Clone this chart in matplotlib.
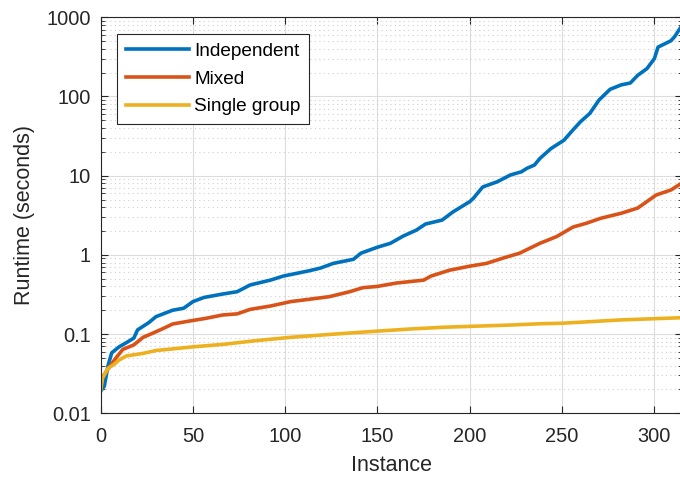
import matplotlib.pyplot as plt
from matplotlib.ticker import LogLocator, NullFormatter

plt.rcParams['font.family'] = ['Liberation Sans', 'DejaVu Sans']

# values (instance index, runtime in seconds)
indep_x = [0, 2, 4, 6, 10, 14, 18, 20, 26, 30, 39, 45, 50, 56, 66, 74, 81, 92, 99,
           113, 119, 126, 137, 141, 150, 157, 164, 171, 176, 185, 191, 200, 202, 207,
           215, 222, 228, 231, 235, 238, 244, 251, 256, 260, 265, 270, 276, 282, 287,
           291, 296, 300, 302, 309, 311, 315]
indep_y = [0.019, 0.022, 0.04, 0.058, 0.069, 0.078, 0.089, 0.113, 0.139, 0.166, 0.20,
           0.212, 0.257, 0.29, 0.32, 0.343, 0.417, 0.48, 0.54, 0.63, 0.68, 0.78, 0.88,
           1.05, 1.25, 1.40, 1.73, 2.05, 2.45, 2.75, 3.5, 4.7, 5.2, 7.2, 8.4, 10.2, 11.2,
           12.4, 13.6, 16.5, 22, 28, 38, 48, 61, 90, 123, 140, 148, 185, 225, 300, 420,
           505, 570, 790]

mixed_x = [0, 3, 8, 12, 18, 23, 28, 34, 39, 48, 57, 66, 74, 81, 92, 103, 113, 124,
           135, 142, 150, 160, 175, 179, 189, 200, 209, 218, 227, 238, 247, 256, 263,
           271, 282, 291, 297, 301, 309, 315]
mixed_y = [0.026, 0.0335, 0.049, 0.064, 0.073, 0.091, 0.102, 0.118, 0.134, 0.146,
           0.158, 0.174, 0.18, 0.205, 0.226, 0.257, 0.275, 0.297, 0.343, 0.385, 0.40,
           0.44, 0.48, 0.54, 0.64, 0.72, 0.78, 0.91, 1.05, 1.40, 1.70, 2.25, 2.5, 2.9,
           3.35, 3.9, 4.9, 5.7, 6.6, 8.1]

single_x = [0, 1, 4, 7, 10, 14, 23, 30, 39, 50, 66, 85, 103, 119, 132, 150, 168, 186,
            204, 222, 238, 250, 282, 315]
single_y = [0.019, 0.0276, 0.037, 0.041, 0.047, 0.053, 0.057, 0.062, 0.065, 0.069,
            0.074, 0.083, 0.091, 0.097, 0.102, 0.109, 0.116, 0.122, 0.126, 0.130,
            0.135, 0.137, 0.151, 0.161]

labels = ['Independent', 'Mixed', 'Single group']
colors = ['#0072BD', '#D95319', '#EDB120']
x_ticks = [0, 50, 100, 150, 200, 250, 300]
y_ticks = [0.01, 0.1, 1, 10, 100, 1000]
y_ticklabels = ['0.01', '0.1', '1', '10', '100', '1000']

fig = plt.figure(figsize=(6.8, 4.78), dpi=100)
ax = fig.add_axes([0.148, 0.1354, 0.855, 0.8285])

for xs, ys, lab, col in zip([indep_x, mixed_x, single_x],
                            [indep_y, mixed_y, single_y], labels, colors):
    ax.plot(xs, ys, color=col, linewidth=2.6, label=lab)

ax.set_yscale('log')
ax.set_xlim(0, 315)
ax.set_ylim(0.01, 1000)
ax.set_xticks(x_ticks)
ax.set_yticks(y_ticks)
ax.set_yticklabels(y_ticklabels)
ax.yaxis.set_minor_locator(LogLocator(base=10, subs=range(2, 10)))
ax.yaxis.set_minor_formatter(NullFormatter())

ax.grid(True, which='major', color='#dcdcdc', linewidth=0.8)
ax.grid(True, which='minor', axis='y', color='#cfcfcf', linestyle=(0, (1, 3)), linewidth=0.8)
ax.set_axisbelow(True)

for s in ax.spines.values():
    s.set_color('#262626')
    s.set_linewidth(0.8)
ax.tick_params(which='both', direction='in', top=True, right=True, colors='#262626',
               labelsize=14.4, labelcolor='#262626')
ax.tick_params(which='major', length=5)
ax.tick_params(which='minor', length=3)
ax.tick_params(axis='x', pad=10)
ax.tick_params(axis='y', pad=7)

ax.set_xlabel('Instance', fontsize=15.5, color='#262626', labelpad=6)
ax.set_ylabel('Runtime (seconds)', fontsize=15.5, color='#262626', labelpad=8)

leg = ax.legend(loc='upper left', bbox_to_anchor=(0.0286, 0.958), borderaxespad=0,
                fontsize=13.7, handlelength=3.3, handletextpad=0.3, labelspacing=0.55,
                borderpad=0.45, fancybox=False, framealpha=1)
leg.get_frame().set_edgecolor('#262626')
leg.get_frame().set_linewidth(0.8)

fig.savefig('out.png', dpi=100)
